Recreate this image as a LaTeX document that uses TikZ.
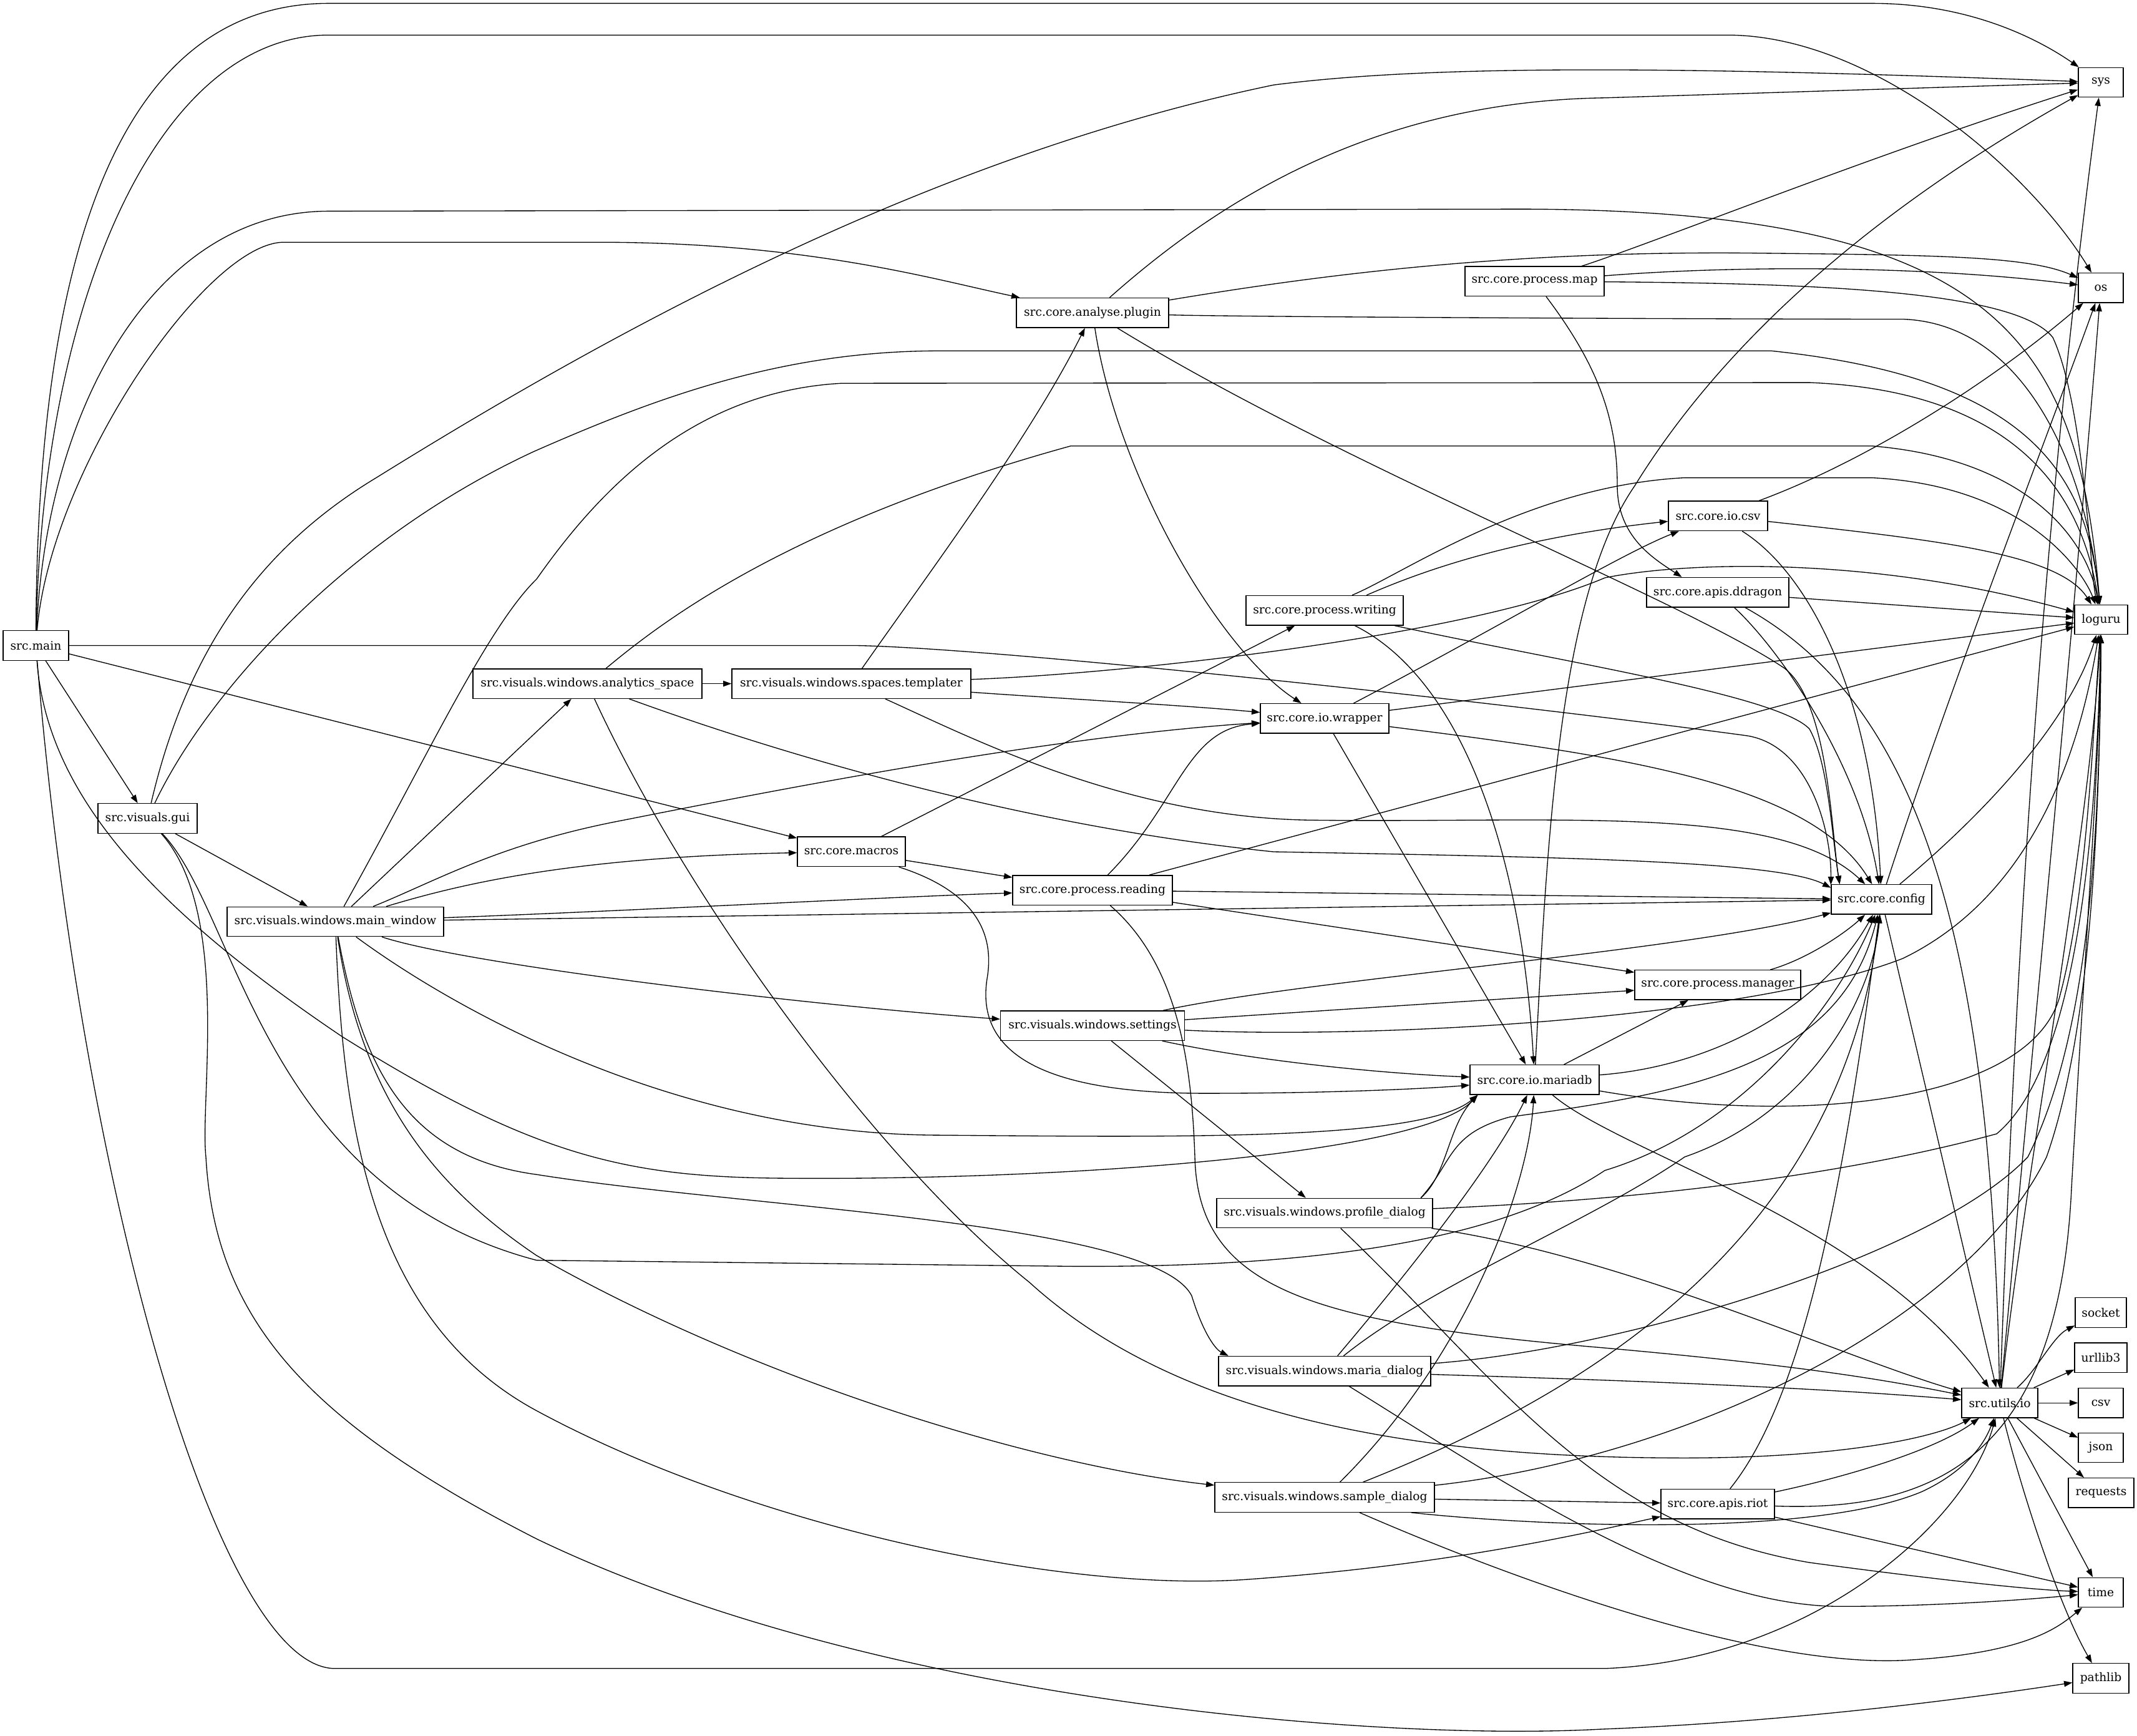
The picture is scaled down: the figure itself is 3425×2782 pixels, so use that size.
\documentclass[tikz,border=0pt]{standalone}
\usepackage{fontspec}
\setmainfont{DejaVu Serif}
\usetikzlibrary{arrows.meta}
\begin{document}
\begin{tikzpicture}[x=0.75pt,y=-0.75pt,
  nd/.style={draw, rectangle, line width=1pt, inner sep=0pt, minimum height=47.5*0.75pt, font=\fontsize{14}{17}\selectfont},
  bw/.style={minimum width=#1*0.75pt},
  e/.style={draw, line width=1pt, -{Triangle[length=10pt,width=7pt]}}]
\fill[white] (0,0) rectangle (3425,2782);
\path[use as bounding box] (0,0) rectangle (3425,2782);
% nodes
\node[nd,bw=105] (main) at (57.5,1034.5) {src.main};
\node[nd,bw=159] (gui) at (236.5,1311.5) {src.visuals.gui};
\node[nd,bw=347] (mainwin) at (537.5,1477) {src.visuals.windows.main\_window};
\node[nd,bw=367] (analytics) at (941.5,1095.6) {src.visuals.windows.analytics\_space};
\node[nd,bw=383] (templater) at (1364.5,1095.6) {src.visuals.windows.spaces.templater};
\node[nd,bw=244] (plugin) at (1751,501.2) {src.core.analyse.plugin};
\node[nd,bw=173] (macros) at (1364.5,1364.9) {src.core.macros};
\node[nd,bw=256] (reading) at (1751,1426.6) {src.core.process.reading};
\node[nd,bw=295] (settings) at (1751,1643.7) {src.visuals.windows.settings};
\node[nd,bw=252] (writing) at (2123,978.2) {src.core.process.writing};
\node[nd,bw=206] (wrapper) at (2123,1151.4) {src.core.io.wrapper};
\node[nd,bw=346] (profile) at (2123,1944) {src.visuals.windows.profile\_dialog};
\node[nd,bw=340] (mariadlg) at (2123,2197.2) {src.visuals.windows.maria\_dialog};
\node[nd,bw=352] (sampledlg) at (2123,2399.5) {src.visuals.windows.sample\_dialog};
\node[nd,bw=223] (pmap) at (2459.5,450.8) {src.core.process.map};
\node[nd,bw=159] (csvio) at (2753.5,826.8) {src.core.io.csv};
\node[nd,bw=228] (ddragon) at (2753,949.2) {src.core.apis.ddragon};
\node[nd,bw=207] (mariadb) at (2459.5,1730.3) {src.core.io.mariadb};
\node[nd,bw=266] (manager) at (2753,1578.4) {src.core.process.manager};
\node[nd,bw=161] (config) at (3015.5,1441.4) {src.core.config};
\node[nd,bw=122] (utilsio) at (3205,2248.2) {src.utils.io};
\node[nd,bw=182] (riot) at (2753,2410.1) {src.core.apis.riot};
\node[nd,bw=72] (sys) at (3367,132) {sys};
\node[nd,bw=72] (os) at (3367,461.2) {os};
\node[nd,bw=85] (loguru) at (3367.5,993) {loguru};
\node[nd,bw=82] (socket) at (3367,2103.5) {socket};
\node[nd,bw=84] (urllib) at (3367,2175.8) {urllib3};
\node[nd,bw=72] (csvmod) at (3367,2248.2) {csv};
\node[nd,bw=72] (json) at (3367,2320) {json};
\node[nd,bw=105] (requests) at (3367.5,2392.3) {requests};
\node[nd,bw=72] (time) at (3367,2551.9) {time};
\node[nd,bw=90] (pathlib) at (3367,2689.5) {pathlib};
% src.main
\draw[e] (main) .. controls (60,432.5) and (180,5.4) .. (527,5.4) -- (3000,5.4) .. controls (3160,5.4) and (3270,64.9) .. (sys);
\draw[e] (main) .. controls (68,486.6) and (250,56.2) .. (527,56.2) -- (2768,56.2) .. controls (3000,56.2) and (3250,270.3) .. (os);
\draw[e] (main) .. controls (75,648.8) and (250,338.4) .. (527,338.4) -- (2400,335.2) .. controls (3200,329.8) and (3330,540.7) .. (loguru);
\draw[e] (main) .. controls (80,756.9) and (330,388.2) .. (455,388.2) -- (966,388.2) .. controls (1300,389.3) and (1500,448.7) .. (plugin);
\draw[e] (main) -- (1372,1034.5) .. controls (1600,1038.4) and (2400,1124.9) .. (2800,1179) .. controls (2900,1195.2) and (2935,1330.4) .. (config.164);
\draw[e] (main) -- (macros);
\draw[e] (main) -- (gui);
\draw[e] (main) .. controls (75,1276) and (250,1460) .. (548,1661) .. controls (850,1850) and (1000,1885) .. (1240,1888) .. controls (1700,1893) and (2280,1850) .. (mariadb.-165);
\draw[e] (main) .. controls (130,1903.9) and (350,2673.8) .. (537,2673.8) -- (2572,2673.8) .. controls (2900,2660.8) and (3150,2444.5) .. (utilsio);
% gui
\draw[e] (gui) .. controls (300,1038.4) and (420,875.9) .. (603,765.6) .. controls (1000,519) and (1500,248.7) .. (2041,136.2) .. controls (2300,102.7) and (2700,107) .. (sys);
\draw[e] (gui) .. controls (330,1114.1) and (550,865) .. (856,723.4) .. controls (1050,638) and (1250,563.4) .. (1500,562.3) -- (2839,562.3) .. controls (3250,605.5) and (3345,756.9) .. (loguru);
\draw[e] (gui) -- (mainwin);
\draw[e] (gui) .. controls (380,1460.1) and (420,1903.9) .. (860,2019.6) -- (1716,2029.3) .. controls (2100,2031.5) and (2400,1990.4) .. (2572,1875.7) .. controls (2800,1806.2) and (2950,1600.7) .. (config);
\draw[e] (gui) .. controls (370,1460.1) and (320,1762.9) .. (330,1854) .. controls (345,2120.1) and (500,2282.3) .. (860,2466.1) .. controls (1400,2725.7) and (2200,2790.6) .. (2565,2771.1) .. controls (2900,2758.1) and (3200,2714.9) .. (pathlib);
% main_window
\draw[e] (mainwin) .. controls (680,1222.3) and (780,1006) .. (860,928) .. controls (950,800.2) and (1100,627.2) .. (1350,614.2) -- (2900,613.1) .. controls (3250,627.2) and (3340,811) .. (loguru);
\draw[e] (mainwin) -- (analytics);
\draw[e] (mainwin) .. controls (700,1411.5) and (800,1352) .. (1000,1314.2) .. controls (1300,1254.7) and (1700,1179) .. (wrapper);
\draw[e] (mainwin) .. controls (720,1422.3) and (900,1373.6) .. (macros);
\draw[e] (mainwin) .. controls (1000,1460.1) and (1400,1438.5) .. (reading);
\draw[e] (mainwin) -- (config);
\draw[e] (mainwin) .. controls (750,1546.7) and (1300,1611.5) .. (settings);
\draw[e] (mainwin) .. controls (750,1633.2) and (1100,1817) .. (1500,1819.1) .. controls (1900,1822.4) and (2280,1827.8) .. (mariadb.-165);
\draw[e] (mainwin) .. controls (580,1708.8) and (650,1854) .. (860,1882.2) .. controls (1200,1936.3) and (1850,1957.9) .. (1910,2076.7) .. controls (1930,2141.8) and (1950,2163.4) .. (mariadlg.171);
\draw[e] (mainwin) .. controls (580,1762.9) and (700,1903.9) .. (860,2012) .. controls (1200,2206.6) and (1650,2347.2) .. (sampledlg);
\draw[e] (mainwin) .. controls (550,1817) and (600,2120.1) .. (860,2260.7) .. controls (1200,2444.5) and (1700,2552.7) .. (2000,2531) .. controls (2300,2509.4) and (2500,2466.1) .. (riot);
% analytics_space
\draw[e] (analytics) -- (templater);
\draw[e] (analytics) .. controls (1050,1006) and (1250,843.4) .. (1716,714.7) -- (3000,714.7) .. controls (3250,735.3) and (3345,865) .. (loguru);
\draw[e] (analytics) .. controls (1200,1189.8) and (1600,1319.6) .. (2041,1365) .. controls (2500,1373.6) and (2850,1379.1) .. (config.167);
\draw[e] (analytics) .. controls (1100,1438.5) and (1400,1854) .. (1650,2055.1) .. controls (1900,2282.3) and (2300,2336.4) .. (2700,2336.4) .. controls (2950,2336.4) and (3100,2304) .. (utilsio);
% templater
\draw[e] (templater) .. controls (1480,930.3) and (1650,702.8) .. (plugin);
\draw[e] (templater) .. controls (1800,1080) and (2350,1020) .. (2572,926) .. controls (2700,900) and (3000,890) .. (loguru);
\draw[e] (templater) .. controls (1700,1119.5) and (1900,1130.3) .. (wrapper);
\draw[e] (templater) .. controls (1550,1179) and (1800,1308.8) .. (2096,1314.2) .. controls (2500,1319.6) and (2850,1287.1) .. (config);
% analyse.plugin
\draw[e] (plugin) .. controls (1950,324.4) and (2200,162.2) .. (2572,156.8) -- (sys);
\draw[e] (plugin) .. controls (2100,443.3) and (2400,402.2) .. (2800,405.5) .. controls (3100,408.7) and (3250,410) .. (os);
\draw[e] (plugin) .. controls (2000,508.2) and (2800,511.5) .. (3050,511.5) .. controls (3250,519) and (3345,756.9) .. (loguru);
\draw[e] (plugin) .. controls (1790,756.9) and (1950,1038.4) .. (wrapper);
\draw[e] (plugin) .. controls (2150,746.1) and (2700,962.7) .. (2860,1070.9) .. controls (2930,1124.9) and (2935,1330.4) .. (config.160);
% process.map
\draw[e] (pmap) .. controls (2650,389.3) and (3000,248.7) .. (sys);
\draw[e] (pmap) .. controls (2800,423.9) and (3100,427.1) .. (os);
\draw[e] (pmap) .. controls (2900,454.1) and (3230,465) .. (3290,540.7) .. controls (3340,648.8) and (3350,919.1) .. (loguru);
\draw[e] (pmap) .. controls (2560,584) and (2592,670) .. (2592,778) .. controls (2592,860) and (2650,895) .. (ddragon.157);
% macros
\draw[e] (macros) -- (writing);
\draw[e] (macros) -- (reading);
\draw[e] (macros) .. controls (1560,1427.7) and (1595,1492.6) .. (1582,1568.3) .. controls (1565,1676.4) and (1650,1752.1) .. (1931,1752.1) .. controls (2150,1752.1) and (2300,1743.5) .. (mariadb);
% process.reading
\draw[e] (reading) .. controls (1890,1287.1) and (1900,1168.2) .. (wrapper);
\draw[e] (reading) -- (loguru);
\draw[e] (reading) -- (config);
\draw[e] (reading) -- (manager);
\draw[e] (reading) .. controls (1890,1546.7) and (1910,1708.8) .. (1915,1854) .. controls (1920,2065.9) and (2100,2120.1) .. (2572,2160.1) .. controls (2850,2185) and (3000,2206.6) .. (utilsio);
% process.writing
\draw[e] (writing.20) .. controls (2250,928) and (2400,865) .. (csvio);
\draw[e] (writing.29) .. controls (2250,919.1) and (2450,778.5) .. (2700,765.6) -- (3000,765.6) .. controls (3250,778.5) and (3340,919.1) .. (loguru);
\draw[e] (writing) .. controls (2500,1060.1) and (2850,1114.1) .. (2900,1168.2) .. controls (2930,1222.3) and (2935,1330.4) .. (config.160);
\draw[e] (writing) .. controls (2350,1092.5) and (2440,1384.5) .. (mariadb);
% io.csv
\draw[e] (csvio) .. controls (3000,735.3) and (3200,605.5) .. (os);
\draw[e] (csvio) .. controls (3100,865) and (3300,886.7) .. (loguru);
\draw[e] (csvio) .. controls (2900,919.1) and (3000,1114.1) .. (config);
% apis.ddragon
\draw[e] (ddragon) -- (loguru);
\draw[e] (ddragon) .. controls (2850,1038.4) and (2980,1222.3) .. (config);
\draw[e] (ddragon) .. controls (3050,1114.1) and (3190,1438.5) .. (utilsio);
% io.wrapper
\draw[e] (wrapper) .. controls (2400,1006) and (2600,886.7) .. (csvio);
\draw[e] (wrapper) -- (loguru);
\draw[e] (wrapper) .. controls (2600,1211.4) and (2900,1254.7) .. (config);
\draw[e] (wrapper) -- (mariadb);
% settings
\draw[e] (settings) .. controls (2100,1568.3) and (2700,1525) .. (config);
\draw[e] (settings) -- (manager);
\draw[e] (settings) .. controls (2200,1665.6) and (2800,1633.2) .. (3050,1535.8) .. controls (3250,1438.5) and (3330,1222.3) .. (loguru);
\draw[e] (settings) .. controls (2000,1698.1) and (2200,1719.6) .. (mariadb);
\draw[e] (settings) -- (profile);
% io.mariadb
\draw[e] (mariadb) .. controls (2480,1330.4) and (2500,951.9) .. (2620,778.5) .. controls (2800,486.6) and (3100,281.1) .. (sys);
\draw[e] (mariadb) -- (manager);
\draw[e] (mariadb) .. controls (2750,1708.8) and (2920,1611.5) .. (config);
\draw[e] (mariadb) .. controls (2900,1806.2) and (3250,1762.9) .. (3300,1600.7) .. controls (3345,1438.5) and (3355,1168.2) .. (loguru);
\draw[e] (mariadb) .. controls (2600,1850) and (3000,1958) .. (utilsio);
% process.manager
\draw[e] (manager) .. controls (2900,1535.8) and (2960,1492.6) .. (config);
% config
\draw[e] (config) .. controls (3120,1114.1) and (3300,648.8) .. (os);
\draw[e] (config) .. controls (3200,1287.1) and (3320,1146.6) .. (loguru);
\draw[e] (config) -- (utilsio);
% profile_dialog
\draw[e] (profile.9) .. controls (2320,1882.2) and (2320,1806.2) .. (mariadb.-165);
\draw[e] (profile.9) .. controls (2330,1860.6) and (2320,1817) .. (2420,1789.9) .. controls (2700,1752.1) and (2950,1708.8) .. (config);
\draw[e] (profile) .. controls (2700,1920.1) and (3000,1871.4) .. (3200,1817) .. controls (3330,1708.8) and (3360,1330.4) .. (loguru);
\draw[e] (profile) .. controls (2600,2012) and (2950,2174.2) .. (utilsio);
\draw[e] (profile) .. controls (2400,2206.6) and (2550,2444.5) .. (2900,2504) .. controls (3100,2531) and (3250,2547.2) .. (time);
% maria_dialog
\draw[e] (mariadlg) .. controls (2280,2012) and (2400,1854) .. (mariadb);
\draw[e] (mariadlg) .. controls (2300,2055.1) and (2550,1957.9) .. (2700,1854) .. controls (2900,1784.7) and (3000,1600.7) .. (config);
\draw[e] (mariadlg) .. controls (2600,2163.4) and (3100,2012) .. (3250,1854) .. controls (3350,1654.8) and (3365,1330.4) .. (loguru);
\draw[e] (mariadlg) .. controls (2600,2212) and (2900,2222.8) .. (utilsio);
\draw[e] (mariadlg) .. controls (2400,2368.9) and (2700,2574.3) .. (2950,2574.3) .. controls (3100,2574.3) and (3250,2563.5) .. (time);
% sample_dialog
\draw[e] (sampledlg) .. controls (2350,2174.2) and (2450,1903.9) .. (mariadb);
\draw[e] (sampledlg) .. controls (2500,2249.9) and (2950,2012) .. (config);
\draw[e] (sampledlg) .. controls (2700,2336.4) and (3150,2120.1) .. (3280,1854) .. controls (3350,1654.8) and (3365,1330.4) .. (loguru);
\draw[e] (sampledlg.-10) .. controls (2450,2444.5) and (2900,2466.1) .. (3080,2390.5) .. controls (3150,2358) and (3180,2314.8) .. (utilsio);
\draw[e] (sampledlg) -- (riot);
\draw[e] (sampledlg) .. controls (2400,2520.2) and (2800,2671.6) .. (3050,2660.8) .. controls (3250,2650) and (3300,2606.7) .. (time);
% apis.riot
\draw[e] (riot) .. controls (2900,2228.3) and (2960,1854) .. (config);
\draw[e] (riot) .. controls (2950,2368.9) and (3100,2325.6) .. (utilsio);
\draw[e] (riot) .. controls (3100,2422.9) and (3300,2336.4) .. (3320,1903.9) .. controls (3340,1546.7) and (3365,1222.3) .. (loguru);
\draw[e] (riot) -- (time);
% utils.io
\draw[e] (utilsio) .. controls (3230,1546.7) and (3270,865) .. (sys);
\draw[e] (utilsio) .. controls (3260,1654.8) and (3330,928) .. (os);
\draw[e] (utilsio) .. controls (3250,1854) and (3350,1330.4) .. (loguru);
\draw[e] (utilsio) .. controls (3265,2195.8) and (3290,2141.8) .. (socket);
\draw[e] (utilsio) -- (urllib);
\draw[e] (utilsio) -- (csvmod);
\draw[e] (utilsio) -- (json);
\draw[e] (utilsio) -- (requests);
\draw[e] (utilsio) -- (time);
\draw[e] (utilsio) .. controls (3240,2390.5) and (3300,2574.3) .. (pathlib);
\end{tikzpicture}
\end{document}
